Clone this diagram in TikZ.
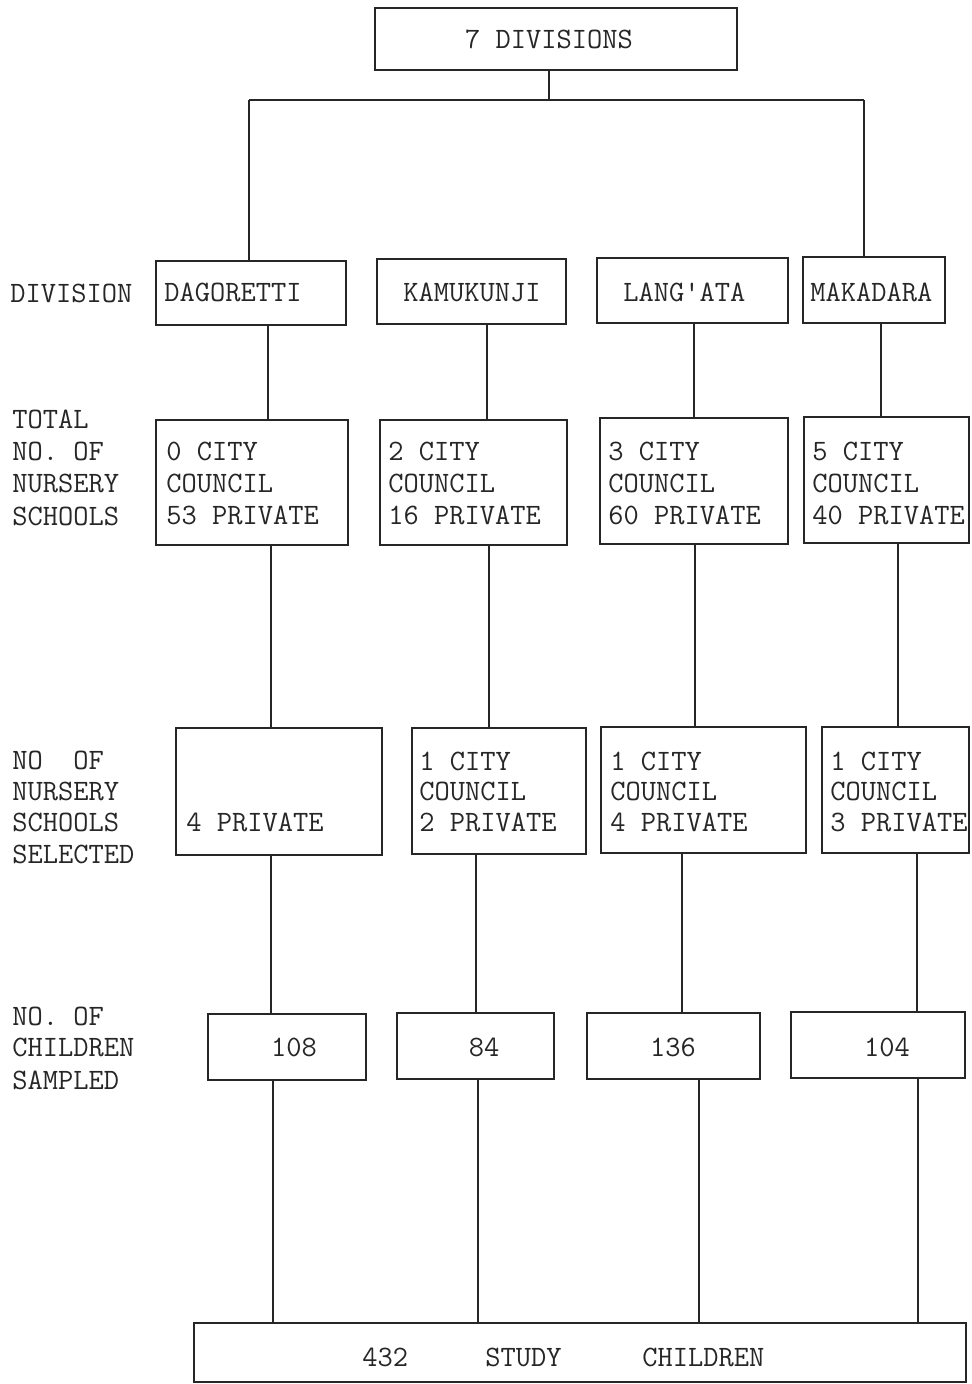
\documentclass[tikz,border=0pt]{standalone}
\usepackage{fontspec}
\usetikzlibrary{fit}
\definecolor{ink}{HTML}{262626}
\tikzset{
  boxst/.style={draw=ink, line width=0.9pt, inner sep=0pt, rectangle},
  txt/.style={inner sep=0pt, text=ink, font=\fontsize{14.8pt}{16pt}\ttfamily},
  conn/.style={draw=ink, line width=0.9pt}
}
\newcommand\pbox[5]{\node[boxst, fit={(#2,#3) (#4,#5)}] (#1) {};}
\newcommand\lbl[4]{\node[txt, anchor=base west] (#1) at (#2,#3) {#4};}
\newcommand\clbl[4]{\node[txt, anchor=base] (#1) at (#2,#3) {#4};}
\newcommand\vcon[3]{\draw[conn] (#1.south -| #3,0) -- (#2.north -| #3,0);}
\begin{document}
\begin{tikzpicture}[x=0.5pt, y=-0.5pt]
\useasboundingbox (0,0) rectangle (971,1384);
% boxes
\pbox{top}{375}{8}{737}{70}
\pbox{dag}{156}{261}{346}{325}
\pbox{kam}{377}{259}{566}{324}
\pbox{lang}{597}{258}{788}{323}
\pbox{mak}{803}{257}{945}{323}
\pbox{tA}{156}{420}{348}{545}
\pbox{tB}{380}{420}{567}{545}
\pbox{tC}{600}{418}{788}{544}
\pbox{tD}{804}{417}{969}{543}
\pbox{sA}{176}{728}{382}{855}
\pbox{sB}{412}{728}{586}{854}
\pbox{sC}{601}{727}{806}{853}
\pbox{sD}{822}{727}{969}{853}
\pbox{cA}{208}{1014}{366}{1080}
\pbox{cB}{397}{1013}{554}{1079}
\pbox{cC}{587}{1013}{760}{1079}
\pbox{cD}{791}{1012}{965}{1078}
\pbox{bot}{194}{1323}{966}{1382}
% top texts
\clbl{tt}{549}{49}{7 DIVISIONS}
% left labels
\lbl{lDiv}{10}{303}{DIVISION}
\lbl{lT1}{12}{429}{TOTAL}
\lbl{lT2}{12}{461}{NO. OF}
\lbl{lT3}{12}{493}{NURSERY}
\lbl{lT4}{12}{525}{SCHOOLS}
\lbl{lS1}{12}{769}{NO\ \ OF}
\lbl{lS2}{12}{800}{NURSERY}
\lbl{lS3}{12}{831}{SCHOOLS}
\lbl{lS4}{12}{863}{SELECTED}
\lbl{lC1}{12}{1025}{NO. OF}
\lbl{lC2}{12}{1056}{CHILDREN}
\lbl{lC3}{12}{1089}{SAMPLED}
% division names
\lbl{xDag}{164}{302}{DAGORETTI}
\lbl{xKam}{403}{302}{KAMUKUNJI}
\lbl{xLang}{623}{302}{LANG'ATA}
\lbl{xMak}{810}{302}{MAKADARA}
% totals
\lbl{tA1}{166}{461}{0 CITY}
\lbl{tA2}{166}{493}{COUNCIL}
\lbl{tA3}{166}{524}{53 PRIVATE}
\lbl{tB1}{388}{461}{2 CITY}
\lbl{tB2}{388}{493}{COUNCIL}
\lbl{tB3}{388}{524}{16 PRIVATE}
\lbl{tC1}{608}{461}{3 CITY}
\lbl{tC2}{608}{493}{COUNCIL}
\lbl{tC3}{608}{524}{60 PRIVATE}
\lbl{tD1}{812}{461}{5 CITY}
\lbl{tD2}{812}{493}{COUNCIL}
\lbl{tD3}{812}{524}{40 PRIVATE}
% selected
\lbl{sA3}{186}{831}{4 PRIVATE}
\lbl{sB1}{419}{770}{1 CITY}
\lbl{sB2}{419}{800}{COUNCIL}
\lbl{sB3}{419}{831}{2 PRIVATE}
\lbl{sC1}{610}{770}{1 CITY}
\lbl{sC2}{610}{800}{COUNCIL}
\lbl{sC3}{610}{831}{4 PRIVATE}
\lbl{sD1}{830}{770}{1 CITY}
\lbl{sD2}{830}{800}{COUNCIL}
\lbl{sD3}{830}{831}{3 PRIVATE}
% children
\clbl{nA}{294}{1056}{108}
\clbl{nB}{484}{1056}{84}
\clbl{nC}{673}{1056}{136}
\clbl{nD}{887}{1056}{104}
% bottom
\lbl{b1}{362}{1366}{432}
\lbl{b2}{485}{1366}{STUDY}
\lbl{b3}{642}{1366}{CHILDREN}
% connectors
\coordinate (hm) at (549,100);
\coordinate (hl) at (249,100);
\coordinate (hr) at (864,100);
\draw[conn] (top.south -| hm) -- (hm);
\draw[conn] (hl) -- (hr);
\draw[conn] (hl) -- (dag.north -| hl);
\draw[conn] (hr) -- (mak.north -| hr);
\vcon{dag}{tA}{268}
\vcon{kam}{tB}{487}
\vcon{lang}{tC}{694}
\vcon{mak}{tD}{881}
\vcon{tA}{sA}{271}
\vcon{tB}{sB}{489}
\vcon{tC}{sC}{695}
\vcon{tD}{sD}{898}
\vcon{sA}{cA}{271}
\vcon{sB}{cB}{476}
\vcon{sC}{cC}{682}
\vcon{sD}{cD}{917}
\vcon{cA}{bot}{273}
\vcon{cB}{bot}{478}
\vcon{cC}{bot}{699}
\vcon{cD}{bot}{918}
\end{tikzpicture}
\end{document}
